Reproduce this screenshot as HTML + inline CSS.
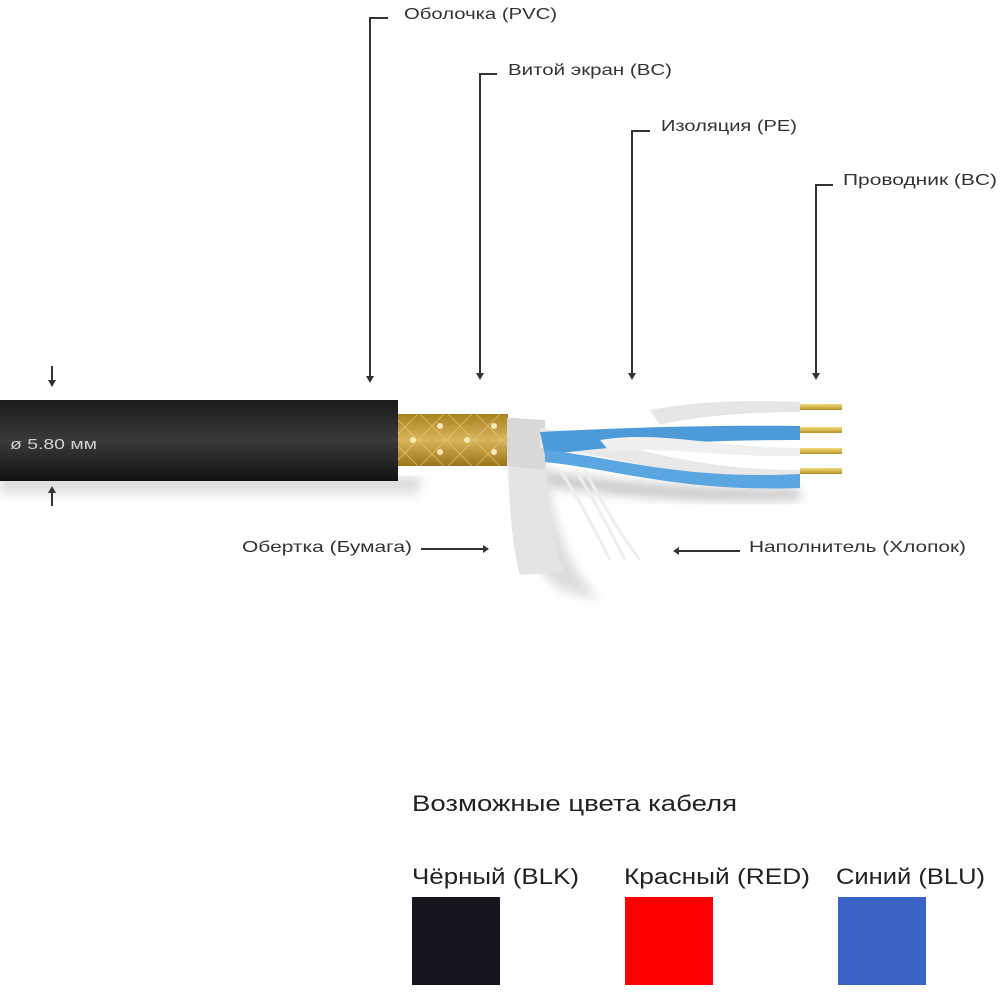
<!DOCTYPE html>
<html><head><meta charset="utf-8"><style>
html,body{margin:0;padding:0;background:#fff;}
svg{display:block;font-family:"Liberation Sans",sans-serif;}
</style></head><body>
<svg width="1000" height="1000" viewBox="0 0 1000 1000" xmlns="http://www.w3.org/2000/svg">
<defs>
<linearGradient id="blk" x1="0" y1="0" x2="0" y2="1">
<stop offset="0" stop-color="#1a1a1a"/><stop offset="0.5" stop-color="#3a3a3a"/><stop offset="1" stop-color="#111"/></linearGradient>
<linearGradient id="gold" x1="0" y1="0" x2="0" y2="1">
<stop offset="0" stop-color="#a8821e"/><stop offset="0.5" stop-color="#d9b45a"/><stop offset="1" stop-color="#9c7418"/></linearGradient>
<linearGradient id="tip" x1="0" y1="0" x2="0" y2="1">
<stop offset="0" stop-color="#f3dc7a"/><stop offset="1" stop-color="#b89328"/></linearGradient>
<linearGradient id="shadow" x1="0" y1="0" x2="0" y2="1">
<stop offset="0" stop-color="#bbb"/><stop offset="1" stop-color="#fff"/></linearGradient>
<filter id="bl"><feGaussianBlur stdDeviation="5"/></filter>
</defs>
<rect x="0" y="478" width="420" height="22" fill="url(#shadow)" filter="url(#bl)" opacity="0.8"/>
<path d="M540,470 C600,480 700,490 800,488 L800,500 C700,505 600,495 540,485Z" fill="#ccc" filter="url(#bl)"/>
<path d="M510,440 C515,500 520,560 560,590 L600,600 C560,560 550,500 545,460Z" fill="#ddd" filter="url(#bl)"/>
<g fill="none" stroke="#333" stroke-width="2">
<polyline points="388,18 370,18 370,378"/>
<polyline points="497,74 480,74 480,375"/>
<polyline points="650,131 632,131 632,375"/>
<polyline points="833,185 816,185 816,375"/>
<line x1="52" y1="366" x2="52" y2="382"/>
<line x1="52" y1="490" x2="52" y2="506"/>
<line x1="421" y1="549" x2="484" y2="549"/>
<line x1="740" y1="551" x2="678" y2="551"/>
</g>
<g fill="#333">
<path d="M366,376 L374,376 L370,383Z"/><path d="M476,373 L484,373 L480,380Z"/>
<path d="M628,373 L636,373 L632,380Z"/><path d="M812,373 L820,373 L816,380Z"/>
<path d="M48,380 L56,380 L52,387Z"/><path d="M48,493 L56,493 L52,486Z"/>
<path d="M483,545 L483,553 L489,549Z"/><path d="M679,547 L679,555 L673,551Z"/>
</g>
<rect x="0" y="400" width="398" height="81" fill="url(#blk)"/>
<rect x="398" y="414" width="110" height="52" fill="url(#gold)"/>
<g stroke="#e8cf85" stroke-width="1" opacity="0.6">
<path d="M398,420 L444,466 M420,414 L472,466 M448,414 L500,466 M476,414 L508,446 M398,446 L418,466"/>
<path d="M398,460 L444,414 M420,466 L472,414 M448,466 L500,414 M476,466 L508,434 M398,434 L418,414"/>
</g>
<g fill="#f6e9b8"><circle cx="413" cy="440" r="3"/><circle cx="440" cy="426" r="3"/><circle cx="440" cy="452" r="3"/><circle cx="467" cy="440" r="3"/><circle cx="494" cy="426" r="3"/><circle cx="494" cy="452" r="3"/></g>
<path d="M507,418 C530,415 540,430 545,460 C548,500 555,560 565,572 L520,575 C510,540 508,480 507,418Z" fill="#e4e4e4"/>
<path d="M507,418 L545,420 L545,470 L507,466Z" fill="#d8d8d8"/>
<path d="M560,470 C580,500 600,540 610,560 M575,470 C595,500 615,540 625,560 M585,470 C605,510 625,540 640,560" stroke="#eee" stroke-width="3" fill="none"/>
<path d="M650,410 C700,400 760,400 800,402 L800,412 C760,412 700,415 660,425Z" fill="#e6e6e6"/>
<path d="M540,428 C620,440 680,470 800,470 L800,478 C680,482 620,455 540,448Z" fill="#e8e8e8"/>
<path d="M540,432 C620,428 700,425 800,426 L800,440 C700,440 620,445 545,455Z" fill="#4c9ad8"/>
<path d="M545,450 C620,458 680,480 800,474 L800,488 C680,492 620,470 545,462Z" fill="#5aa6e0"/>
<path d="M600,440 C660,430 720,448 800,448 L800,456 C720,458 660,445 610,452Z" fill="#f0f0f0"/>
<g fill="url(#tip)">
<rect x="800" y="404" width="42" height="6"/><rect x="800" y="427" width="42" height="6"/>
<rect x="800" y="448" width="42" height="6"/><rect x="800" y="468" width="42" height="6"/>
</g>
<text x="10" y="449" font-size="15" fill="#cfcfcf" textLength="87" lengthAdjust="spacingAndGlyphs">ø 5.80 мм</text>
<g font-size="16" fill="#333" lengthAdjust="spacingAndGlyphs">
<text x="404" y="19" textLength="153" lengthAdjust="spacingAndGlyphs">Оболочка (PVC)</text>
<text x="508" y="75" textLength="164" lengthAdjust="spacingAndGlyphs">Витой экран (BC)</text>
<text x="661" y="131" textLength="136" lengthAdjust="spacingAndGlyphs">Изоляция (PE)</text>
<text x="843" y="185" textLength="154" lengthAdjust="spacingAndGlyphs">Проводник (BC)</text>
<text x="242" y="552" textLength="170" lengthAdjust="spacingAndGlyphs">Обертка (Бумага)</text>
<text x="749" y="552" textLength="217" lengthAdjust="spacingAndGlyphs">Наполнитель (Хлопок)</text>
</g>
<g font-size="22" fill="#222">
<text x="412" y="811" textLength="325" lengthAdjust="spacingAndGlyphs">Возможные цвета кабеля</text>
<text x="412" y="884" textLength="167" lengthAdjust="spacingAndGlyphs">Чёрный (BLK)</text>
<text x="624" y="884" textLength="186" lengthAdjust="spacingAndGlyphs">Красный (RED)</text>
<text x="836" y="884" textLength="149" lengthAdjust="spacingAndGlyphs">Синий (BLU)</text>
</g>
<rect x="412" y="897" width="88" height="88" fill="#151520"/>
<rect x="625" y="897" width="88" height="88" fill="#fe0000"/>
<rect x="838" y="897" width="88" height="88" fill="#3b63c8"/>
</svg>
</body></html>
